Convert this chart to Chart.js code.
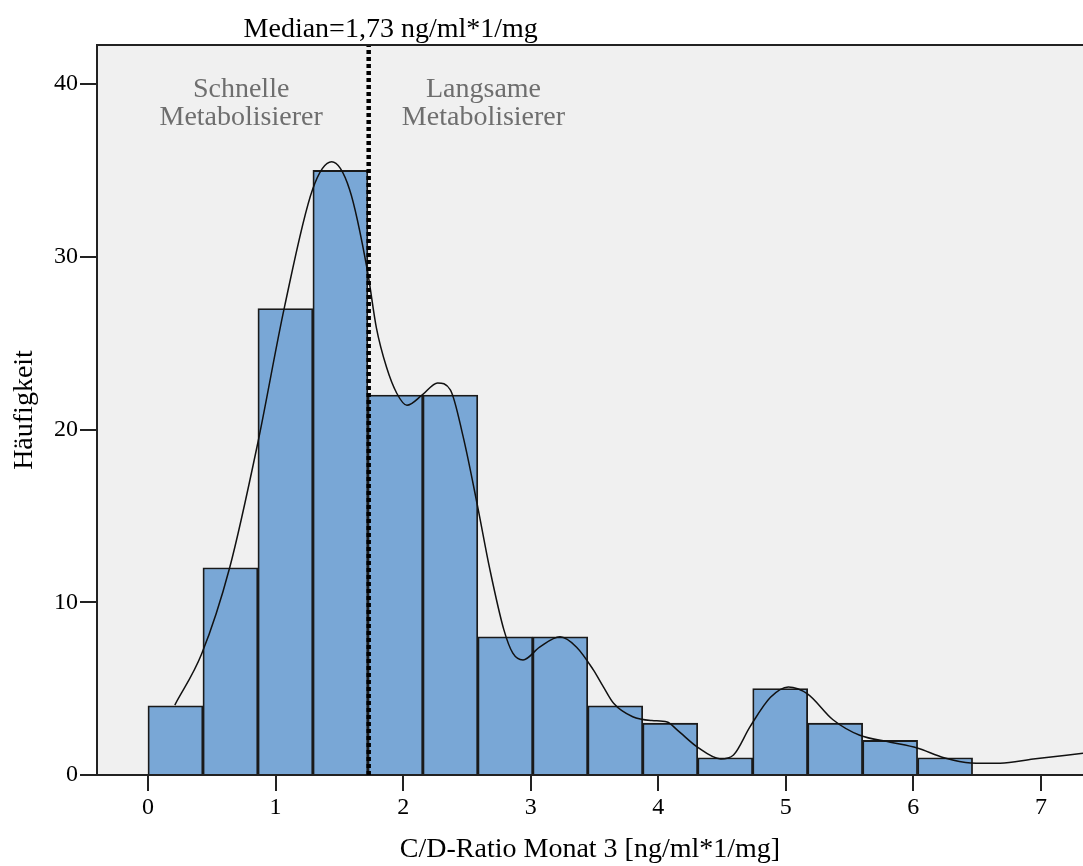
<!DOCTYPE html>
<html>
<head>
<meta charset="utf-8">
<script src="https://cdn.jsdelivr.net/npm/chart.js@4.4.1/dist/chart.umd.min.js"></script>
<style>
  html, body { margin: 0; padding: 0; background: #ffffff; }
  canvas { display: block; }
</style>
</head>
<body>
<canvas id="c" width="1083" height="866"></canvas>
<script>
// ---- Data ----
const binCenters = [0.215, 0.646, 1.077, 1.508, 1.939, 2.370, 2.801, 3.232, 3.663, 4.094, 4.525, 4.956, 5.387, 5.818, 6.249];
const binCounts  = [4, 12, 27, 35, 22, 22, 8, 8, 4, 3, 1, 5, 3, 2, 1];

const curveX = [0.21, 0.42, 0.64, 0.86, 1.07, 1.29, 1.44, 1.58, 1.72, 1.79, 1.87, 1.95, 2.03, 2.15, 2.27, 2.37, 2.47, 2.58, 2.68, 2.79, 2.86, 2.94, 3.07, 3.23, 3.36, 3.49, 3.57, 3.65, 3.80, 3.95, 4.07, 4.15, 4.31, 4.49, 4.59, 4.72, 4.88, 5.02, 5.17, 5.37, 5.58, 5.82, 6.03, 6.24, 6.45, 6.68, 6.94, 7.33];
const curveY = [4.05, 7.0, 12.0, 19.2, 27.1, 33.9, 35.5, 33.9, 29.2, 25.9, 23.6, 22.1, 21.4, 22.0, 22.7, 22.3, 19.6, 15.7, 11.9, 8.4, 7.05, 6.66, 7.4, 8.0, 7.4, 6.1, 5.1, 4.15, 3.37, 3.15, 3.07, 2.6, 1.6, 0.93, 1.16, 2.8, 4.5, 5.1, 4.7, 3.2, 2.3, 1.9, 1.56, 1.0, 0.7, 0.68, 0.92, 1.26];

const medianValue = 1.73;
const medianLabel = 'Median=1,73 ng/ml*1/mg';
const groupLabels = [['Schnelle', 'Metabolisierer'], ['Langsame', 'Metabolisierer']];

const xTicks = [0, 1, 2, 3, 4, 5, 6, 7];
const yTicks = [0, 10, 20, 30, 40];
const xRange = [-0.4, 7.33];
const yRange = [0, 42.26];

const xTitle = 'C/D-Ratio Monat 3 [ng/ml*1/mg]';
const yTitle = 'Häufigkeit';

// ---- Chart ----
const FONT = "'Liberation Serif', 'Times New Roman', serif";
Chart.defaults.font.family = FONT;
Chart.defaults.color = '#000000';

const barData = binCenters.map((x, i) => ({ x: x, y: binCounts[i] }));
const curveData = curveX.map((x, i) => ({ x: x, y: curveY[i] }));
const medianData = [{ x: medianValue, y: yRange[0] }, { x: medianValue, y: yRange[1] }];

const decorPlugin = {
  id: 'decor',
  beforeDraw(chart) {
    const { ctx, chartArea: a } = chart;
    ctx.save();
    ctx.fillStyle = '#f0f0f0';
    ctx.fillRect(a.left, a.top, a.right - a.left, a.bottom - a.top);
    ctx.restore();
  },
  afterDraw(chart) {
    const { ctx, chartArea: a, scales } = chart;
    const xs = scales.x, ys = scales.y;
    ctx.save();
    // top frame line
    ctx.strokeStyle = '#222222';
    ctx.lineWidth = 2;
    ctx.beginPath();
    ctx.moveTo(a.left, a.top);
    ctx.lineTo(a.right, a.top);
    ctx.stroke();
    // median label
    ctx.fillStyle = '#000000';
    ctx.font = '28px ' + FONT;
    ctx.textAlign = 'center';
    ctx.textBaseline = 'alphabetic';
    ctx.fillText(medianLabel, xs.getPixelForValue(medianValue) + 22, 37);
    // group labels
    ctx.fillStyle = '#6e6e6e';
    ctx.font = '28px ' + FONT;
    ctx.textBaseline = 'middle';
    const pos = [[0.73, 39.65], [2.63, 39.65]];
    groupLabels.forEach((lines, gi) => {
      lines.forEach((t, li) => {
        const px = xs.getPixelForValue(pos[gi][0]);
        const py = ys.getPixelForValue(pos[gi][1]) + li * 28;
        ctx.fillText(t, px, py);
      });
    });
    ctx.restore();
  }
};

new Chart(document.getElementById('c'), {
  data: {
    datasets: [
      {
        type: 'line',
        data: medianData,
        borderColor: '#000000',
        borderWidth: 4.5,
        borderDash: [4, 3],
        pointRadius: 0,
        order: 1
      },
      {
        type: 'line',
        data: curveData,
        borderColor: '#111111',
        borderWidth: 1.5,
        pointRadius: 0,
        cubicInterpolationMode: 'monotone',
        order: 2
      },
      {
        type: 'bar',
        data: barData,
        backgroundColor: '#79a7d6',
        borderColor: '#1a1a1a',
        borderWidth: 1.8,
        barPercentage: 1.0,
        categoryPercentage: 1.0,
        order: 3
      }
    ]
  },
  options: {
    responsive: false,
    animation: false,
    devicePixelRatio: 1,
    layout: { padding: { top: 45, left: 0, right: 0, bottom: 0 } },
    plugins: {
      legend: { display: false },
      tooltip: { enabled: false },
      title: { display: false }
    },
    scales: {
      x: {
        type: 'linear',
        offset: false,
        min: xRange[0],
        max: xRange[1],
        afterBuildTicks: (s) => { s.ticks = xTicks.map(v => ({ value: v })); },
        afterFit: (s) => { s.height = 91; },
        ticks: {
          font: { size: 24 },
          color: '#000000',
          padding: 2,
          maxRotation: 0,
          autoSkip: false,
          callback: (v) => String(v)
        },
        grid: {
          offset: false,
          drawOnChartArea: false,
          drawTicks: true,
          tickLength: 16,
          color: '#222222',
          lineWidth: 2
        },
        border: { display: true, color: '#222222', width: 2 },
        title: {
          display: true,
          text: xTitle,
          font: { size: 28 },
          color: '#000000',
          padding: { top: 0, bottom: 0 }
        }
      },
      y: {
        type: 'linear',
        min: yRange[0],
        max: yRange[1],
        afterBuildTicks: (s) => { s.ticks = yTicks.map(v => ({ value: v })); },
        afterFit: (s) => { s.width = 97; },
        ticks: {
          font: { size: 24 },
          color: '#000000',
          padding: 2,
          autoSkip: false,
          callback: (v) => String(v)
        },
        grid: {
          drawOnChartArea: false,
          drawTicks: true,
          tickLength: 17,
          color: '#222222',
          lineWidth: 2
        },
        border: { display: true, color: '#222222', width: 2 },
        title: {
          display: true,
          text: yTitle,
          font: { size: 28 },
          color: '#000000',
          padding: { top: 8, bottom: 0 }
        }
      }
    }
  },
  plugins: [decorPlugin]
});
</script>
</body>
</html>
